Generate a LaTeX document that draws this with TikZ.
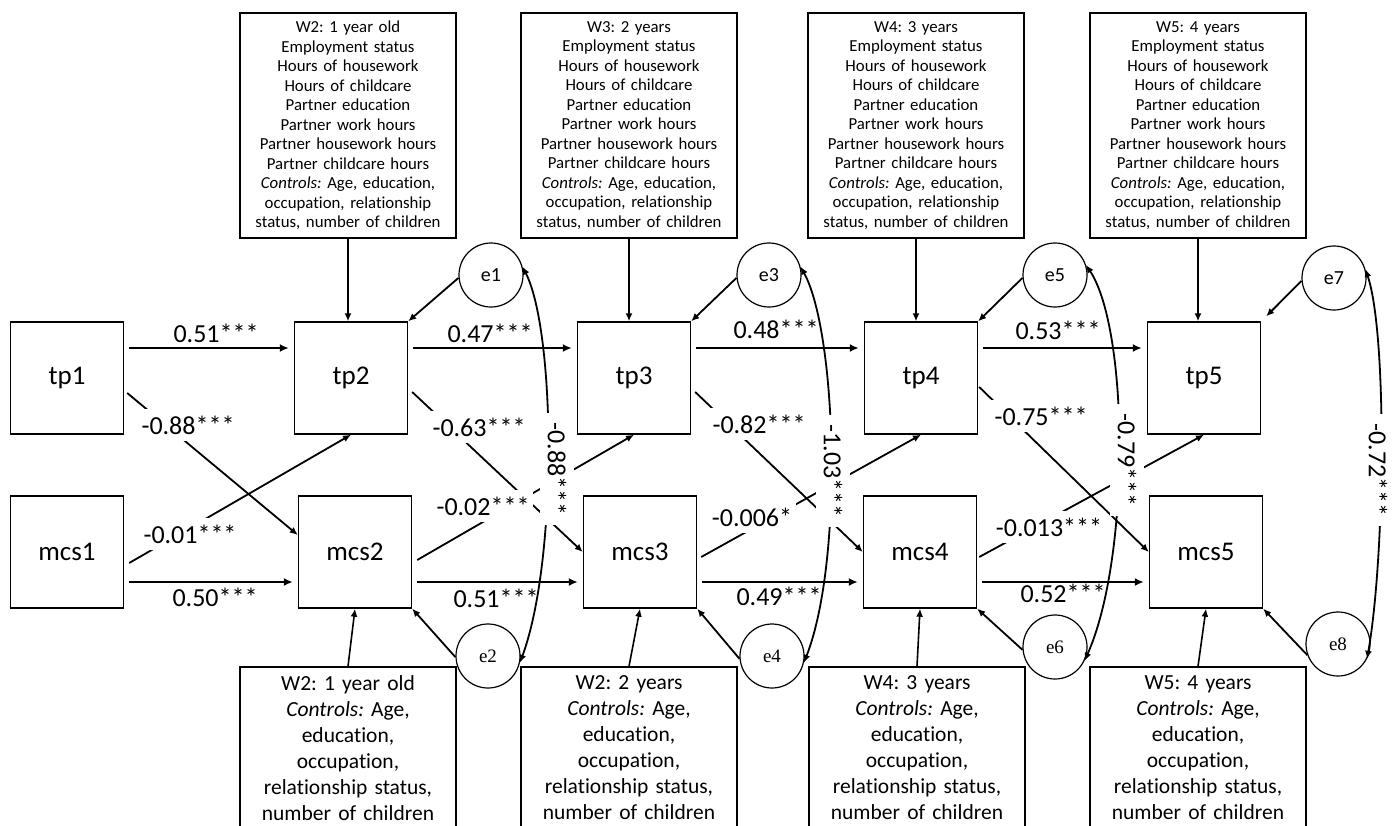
\documentclass[tikz,border=0pt]{standalone}
\usepackage{fontspec}
\setmainfont{Carlito}[Ligatures=NoCommon]
\newfontfamily\efont{Liberation Serif}
\usetikzlibrary{arrows.meta,calc}
\frenchspacing
\begin{document}
\begin{tikzpicture}[x=1pt,y=-1pt,
 every node/.style={inner sep=0pt},
 var/.style={draw,line width=1.4pt,minimum width=113pt,minimum height=112pt,font=\fontsize{27}{32}\selectfont},
 topbox/.style={draw,line width=1.4pt,minimum width=216pt,minimum height=225pt,text width=212pt,align=center,font=\fontsize{16.8}{19.5}\selectfont},
 botbox/.style={draw,line width=1.4pt,minimum width=216pt,minimum height=162pt,text width=212pt,align=center,font=\fontsize{21.5}{26}\selectfont},
 err/.style={draw,circle,line width=1.2pt,minimum size=64pt,font=\fontsize{20}{22}\selectfont},
 erre/.style={draw,circle,line width=1.2pt,minimum size=64pt,font={\efont\fontsize{19}{22}\selectfont}},
 harr/.style={line width=2.6pt,-{Latex[length=9pt,width=8pt]},shorten <=5pt,shorten >=5pt},
 darr/.style={line width=1.8pt,-{Latex[length=8pt,width=7pt]}},
 varr/.style={line width=1.6pt,-{Latex[length=8pt,width=7pt]}},
 cov/.style={line width=1.8pt,{Latex[length=8pt,width=7pt]}-{Latex[length=8pt,width=7pt]}},
 lab/.style={font=\fontsize{26}{30}\selectfont},
 wlab/.style={lab,fill=white,inner xsep=4pt,inner ysep=7pt},
 rlab/.style={lab,fill=white,rotate=-90,inner xsep=10pt,inner ysep=8pt},
]
\clip (0,0) rectangle (1394,825);
\fill[white] (0,0) rectangle (1394,825);

% observed variables
\node[var] (tp1) at (67,378) {tp1};
\node[var] (mcs1) at (67,552) {mcs1};
\node[var] (tp2) at (351,378) {tp2};
\node[var] (mcs2) at (355,552) {mcs2};
\node[var] (tp3) at (634,378) {tp3};
\node[var] (mcs3) at (640,552) {mcs3};
\node[var] (tp4) at (921,378) {tp4};
\node[var] (mcs4) at (920,552) {mcs4};
\node[var] (tp5) at (1204,378) {tp5};
\node[var] (mcs5) at (1206,552) {mcs5};

% top boxes
\node[topbox] (w2t) at (348,125.5) {W2: 1 year old\\Employment status\\Hours of housework\\Hours of childcare\\Partner education\\Partner work hours\\Partner housework hours\\Partner childcare hours\\\textit{Controls:} Age, education,\\occupation, relationship\\status, number of children};
\node[topbox] (w3t) at (629,125.5) {W3: 2 years\\Employment status\\Hours of housework\\Hours of childcare\\Partner education\\Partner work hours\\Partner housework hours\\Partner childcare hours\\\textit{Controls:} Age, education,\\occupation, relationship\\status, number of children};
\node[topbox] (w4t) at (916,125.5) {W4: 3 years\\Employment status\\Hours of housework\\Hours of childcare\\Partner education\\Partner work hours\\Partner housework hours\\Partner childcare hours\\\textit{Controls:} Age, education,\\occupation, relationship\\status, number of children};
\node[topbox] (w5t) at (1198,125.5) {W5: 4 years\\Employment status\\Hours of housework\\Hours of childcare\\Partner education\\Partner work hours\\Partner housework hours\\Partner childcare hours\\\textit{Controls:} Age, education,\\occupation, relationship\\status, number of children};

% bottom boxes
\node[botbox] (w2b) at (348,748) {W2: 1 year old\\\textit{Controls:} Age,\\education,\\occupation,\\relationship status,\\number of children};
\node[botbox] (w3b) at (629,748) {W2: 2 years\\\textit{Controls:} Age,\\education,\\occupation,\\relationship status,\\number of children};
\node[botbox] (w4b) at (917,748) {W4: 3 years\\\textit{Controls:} Age,\\education,\\occupation,\\relationship status,\\number of children};
\node[botbox] (w5b) at (1198,748) {W5: 4 years\\\textit{Controls:} Age,\\education,\\occupation,\\relationship status,\\number of children};

% error terms
\node[err] (e1) at (491,275) {e1};
\node[err] (e3) at (769,275) {e3};
\node[err] (e5) at (1055,275) {e5};
\node[err] (e7) at (1334,278) {e7};
\node[erre] (e2) at (488,656) {e2};
\node[erre] (e4) at (772,656) {e4};
\node[erre] (e6) at (1055,647) {e6};
\node[erre] (e8) at (1338,644) {e8};

% box arrows
\foreach \b/\n in {w2t/tp2,w3t/tp3,w4t/tp4,w5t/tp5}
  \draw[varr] (\b.south) -- (\b.south |- \n.north);
\foreach \b/\n in {w2b/mcs2,w3b/mcs3,w4b/mcs4,w5b/mcs5}
  \draw[varr] (\b.north) -- (\n.south);

% horizontal paths
\foreach \a/\b in {tp1/tp2,tp2/tp3,tp3/tp4,tp4/tp5}
  \draw[harr] ($(\a.east)+(0,-30)$) -- ($(\b.west)+(0,-30)$);
\foreach \a/\b in {mcs1/mcs2,mcs2/mcs3,mcs3/mcs4,mcs4/mcs5}
  \draw[harr] ($(\a.east)+(0,30)$) -- ($(\b.west)+(0,30)$);

% cross-lagged paths
\draw[darr] ($(tp1.east)+(3,15)$) -- ($(mcs2.west)+(0,-17)$);
\draw[darr] ($(mcs1.east)+(5,11)$) -- (tp2.south);
\draw[darr] ($(tp2.east)+(4,14)$) -- (mcs3.west);
\draw[darr] ($(mcs2.east)+(5,8)$) -- (tp3.south);
\draw[darr] ($(tp3.east)+(4,14)$) -- (mcs4.west);
\draw[darr] ($(mcs3.east)+(4,5)$) -- (tp4.south);
\draw[darr] ($(tp4.east)+(1,9)$) -- (mcs5.west);
\draw[darr] ($(mcs4.east)+(2,5)$) -- (tp5.south);

% residual arrows
\draw[darr] (e1.185) -- (tp2.north east);
\draw[darr] (e3.185) -- (tp3.north east);
\draw[darr] (e5.185) -- (tp4.north east);
\draw[darr] (e7.185) -- ($(tp5.north east)+(5,-5)$);
\draw[darr] (e2.182) -- (mcs2.south east);
\draw[darr] (e4.185) -- (mcs3.south east);
\draw[darr] (e6.185) -- (mcs4.south east);
\draw[darr] (e8.200) -- (mcs5.south east);

% residual covariances
\draw[cov] (e1.15) .. controls +(33,65) and +(38,-103) .. (e2.-12);
\draw[cov] (e3.15) .. controls +(36,65) and +(40,-103) .. (e4.-12);
\draw[cov] (e5.18) .. controls +(43,65) and +(46,-103) .. (e6.-25);
\draw[cov] (e7.16) .. controls +(22,65) and +(18,-103) .. (e8.-27);

% labels
\node[lab] (l1) at (216,333) {0.51***};
\node[lab] (l2) at (490,333) {0.47***};
\node[lab] (l3) at (776,329) {0.48***};
\node[lab] (l4) at (1058,330) {0.53***};
\node[lab] (l5) at (215,597) {0.50***};
\node[lab] (l6) at (496,598) {0.51***};
\node[lab] (l7) at (779,596) {0.49***};
\node[lab] (l8) at (1063,593) {0.52***};
\node[wlab] (c1) at (188,425) {-0.88***};
\node[wlab] (c2) at (190,534) {-0.01***};
\node[wlab] (c3) at (479,427) {-0.63***};
\node[wlab] (c4) at (483,506) {-0.02***};
\node[wlab] (c5) at (759,424) {-0.82***};
\node[wlab] (c6) at (752,517) {-0.006*};
\node[wlab] (c7) at (1041,416) {-0.75***};
\node[wlab] (c8) at (1049,527) {-0.013***};
\node[rlab] (r1) at (557,469) {-0.88***};
\node[rlab] (r2) at (833,471) {-1.03***};
\node[rlab] (r3) at (1127,460) {-0.79***};
\node[rlab] (r4) at (1378,470) {-0.72***};
\end{tikzpicture}
\end{document}
